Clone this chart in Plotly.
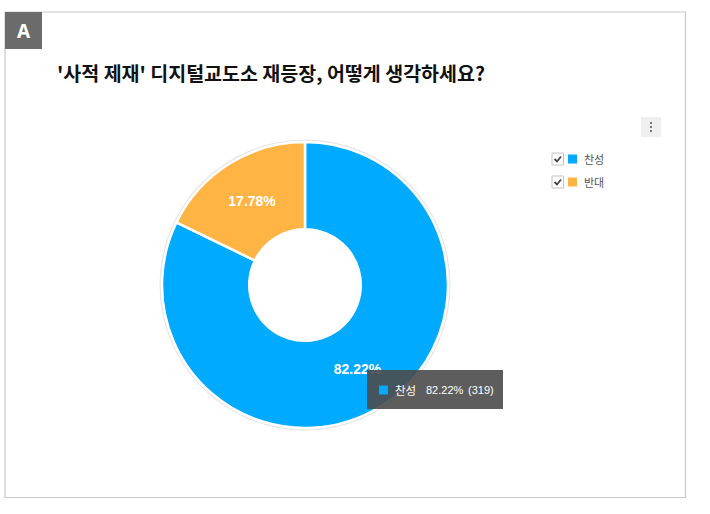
import plotly.graph_objects as go

# data
labels = ['찬성', '반대']
counts = [319, 69]
colors = ['#00AAFF', '#FFB443']
title = "'사적 제재' 디지털교도소 재등장, 어떻게 생각하세요?"
hover_idx = 0

W, H = 710, 514


def px(x):
    return x / W


def py(y):
    return 1 - y / H


total = sum(counts)

fig = go.Figure()

# pie centre / radius in pixels
cx, cy, r = 305, 285, 143
hole = 0.39

fig.add_trace(go.Pie(
    labels=labels,
    values=counts,
    hole=hole,
    sort=False,
    direction='clockwise',
    rotation=0,
    marker=dict(colors=colors, line=dict(color='white', width=2.5)),
    texttemplate='<b>%{percent:.2%}</b>',
    textposition='inside',
    insidetextorientation='horizontal',
    textfont=dict(family='Liberation Sans', size=14, color='white'),
    domain=dict(x=[px(cx - r), px(cx + r)], y=[py(cy + r), py(cy - r)]),
    showlegend=False,
    hoverinfo='none',
))

shapes = []
annotations = []


def note(text, x, y, size, color, family, xanchor='left'):
    annotations.append(dict(text=text, x=px(x), y=py(y), xref='paper', yref='paper',
                            xanchor=xanchor, yanchor='middle', showarrow=False,
                            font=dict(family=family, size=size, color=color)))


# outer frame
shapes.append(dict(type='rect', xref='paper', yref='paper',
                   x0=px(5), x1=px(685.5), y0=py(497.5), y1=py(12),
                   line=dict(color='#c8c8c8', width=1.2), fillcolor='white', layer='below'))
# faint shadow ring round the donut
rs = r + 2.5
shapes.append(dict(type='circle', xref='paper', yref='paper',
                   x0=px(cx - rs), x1=px(cx + rs), y0=py(cy + rs), y1=py(cy - rs),
                   line=dict(width=0), fillcolor='#e6e6e6', layer='below'))
rh = r * hole
shapes.append(dict(type='circle', xref='paper', yref='paper',
                   x0=px(cx - rh), x1=px(cx + rh), y0=py(cy + rh), y1=py(cy - rh),
                   line=dict(width=0), fillcolor='white', layer='below'))
# "A" badge
shapes.append(dict(type='rect', xref='paper', yref='paper',
                   x0=px(5), x1=px(42), y0=py(49), y1=py(12),
                   line=dict(width=0), fillcolor='#6b6b6b'))
note('<b>A</b>', 23.5, 31, 19, 'white', 'Noto Sans', xanchor='center')

# title
note('<b>' + title + '</b>', 55, 73, 19.5, '#111111', 'Noto Sans CJK KR')

# menu button
shapes.append(dict(type='rect', xref='paper', yref='paper',
                   x0=px(641), x1=px(661), y0=py(137), y1=py(117),
                   line=dict(width=0), fillcolor='#efefef'))
for dy in (-4, 0, 4):
    shapes.append(dict(type='circle', xref='paper', yref='paper',
                       x0=px(650), x1=px(652), y0=py(127 + dy + 1), y1=py(127 + dy - 1),
                       line=dict(width=0), fillcolor='#555555'))

# legend with checkboxes
for i, (lab, col) in enumerate(zip(labels, colors)):
    yc = 159 + i * 23
    shapes.append(dict(type='rect', xref='paper', yref='paper',
                       x0=px(552), x1=px(563.5), y0=py(yc + 6), y1=py(yc - 6),
                       line=dict(color='#c4c4c4', width=1), fillcolor='white'))
    path = 'M {} {} L {} {} L {} {}'.format(px(554.5), py(yc), px(557), py(yc + 2.5), px(561), py(yc - 2.5))
    shapes.append(dict(type='path', xref='paper', yref='paper', path=path,
                       line=dict(color='#444444', width=1.8)))
    shapes.append(dict(type='rect', xref='paper', yref='paper',
                       x0=px(568), x1=px(577), y0=py(yc + 4.5), y1=py(yc - 4.5),
                       line=dict(width=0), fillcolor=col))
    note(lab, 582, yc, 11, '#555555', 'Noto Sans CJK KR')

# tooltip
pct = counts[hover_idx] / total * 100
shapes.append(dict(type='rect', xref='paper', yref='paper',
                   x0=px(367), x1=px(503), y0=py(409), y1=py(370),
                   line=dict(width=0), fillcolor='rgba(75,75,75,0.9)'))
shapes.append(dict(type='rect', xref='paper', yref='paper',
                   x0=px(379), x1=px(388), y0=py(394.5), y1=py(385.5),
                   line=dict(width=0), fillcolor=colors[hover_idx]))
note(labels[hover_idx], 393, 390, 11.5, 'white', 'Noto Sans CJK KR')
note(f'{pct:.2f}%', 424, 390, 11, 'white', 'Liberation Sans')
note(f'({counts[hover_idx]})', 466, 390, 11, 'white', 'Liberation Sans')

fig.update_layout(
    width=W, height=H,
    margin=dict(l=0, r=0, t=0, b=0),
    paper_bgcolor='white',
    plot_bgcolor='white',
    shapes=shapes,
    annotations=annotations,
)

fig.write_html("out.html", config={'displayModeBar': False},
               post_script="document.body.style.margin='0';")
